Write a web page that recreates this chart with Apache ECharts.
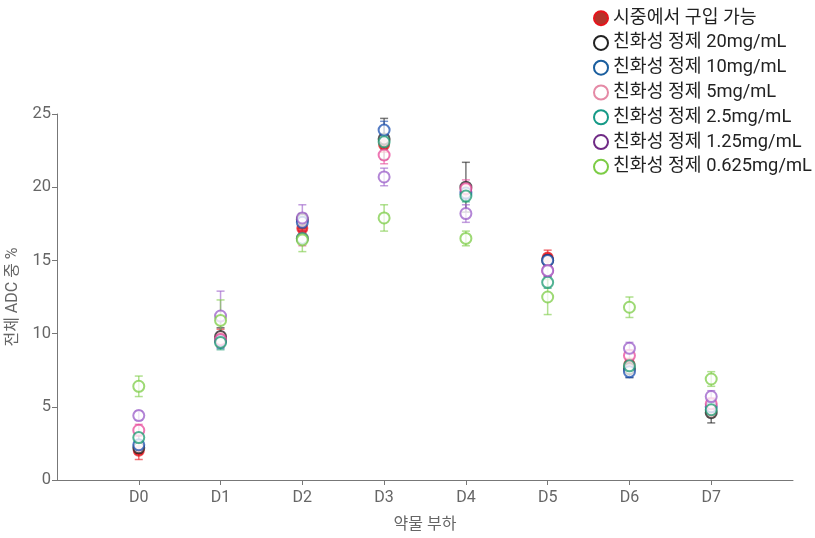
<!DOCTYPE html>
<html><head><meta charset="utf-8">
<script src="https://cdn.jsdelivr.net/npm/echarts@6/dist/echarts.min.js"></script>
<style>html,body{margin:0;padding:0;background:#fff}#c{width:815px;height:538px}</style>
</head><body><div id="c"></div>
<script>
const categories = ['D0','D1','D2','D3','D4','D5','D6','D7'];
const seriesNames = ['시중에서 구입 가능','친화성 정제 20mg/mL','친화성 정제 10mg/mL','친화성 정제 5mg/mL','친화성 정제 2.5mg/mL','친화성 정제 1.25mg/mL','친화성 정제 0.625mg/mL'];
const colors = ['#b5332a','#222222','#1a5e9e','#e58aa6','#169a87','#6f2a85','#7ccc45'];
const plotColors = ['#e8141c','#222222','#1a4fb0','#e8489a','#1a9a70','#9a5cc8','#7ccc45'];
const yTicks = [0,5,10,15,20,25];
const valRed    = [2.0, 9.7, 17.2, 22.9, 19.8, 15.2, 7.9, 4.7];
const valBlack  = [2.2, 9.8, 17.8, 23.3, 20.0, 15.0, 7.6, 4.6];
const valBlue   = [2.4, 9.5, 17.6, 23.9, 19.6, 15.0, 7.4, 5.0];
const valPink   = [3.4, 9.6, 16.5, 22.2, 19.9, 14.3, 8.5, 5.2];
const valTeal   = [2.9, 9.4, 16.5, 23.1, 19.4, 13.5, 7.8, 4.8];
const valPurple = [4.4, 11.2, 17.9, 20.7, 18.2, 14.3, 9.0, 5.7];
const valGreen  = [6.4, 10.9, 16.4, 17.9, 16.5, 12.5, 11.8, 6.9];
const errRed    = [0.6, 0.6, 0.3, 0.5, 0.4, 0.5, 0.4, 0.4];
const errBlack  = [0.4, 0.6, 0.4, 1.4, 1.7, 0.4, 0.6, 0.7];
const errBlue   = [0.3, 0.5, 0.4, 0.6, 0.4, 0.3, 0.4, 0.5];
const errPink   = [0.4, 0.5, 0.5, 0.6, 0.6, 0.4, 0.4, 0.4];
const errTeal   = [0.3, 0.5, 0.3, 0.5, 0.4, 0.4, 0.4, 0.4];
const errPurple = [0.3, 1.7, 0.9, 0.6, 0.6, 0.4, 0.4, 0.4];
const errGreen  = [0.7, 1.4, 0.8, 0.9, 0.5, 1.2, 0.7, 0.5];

const values = [valRed,valBlack,valBlue,valPink,valTeal,valPurple,valGreen];
const errors = [errRed,errBlack,errBlue,errPink,errTeal,errPurple,errGreen];
const FONT = "Roboto, 'Noto Sans CJK KR', sans-serif";

const chart = echarts.init(document.getElementById('c'));
const errSeries = values.map((vals, s) => ({
  type: 'custom',
  name: seriesNames[s],
  z: 1,
  data: vals.map((v, i) => [i, v - errors[s][i], v + errors[s][i]]),
  renderItem: function (params, api) {
    const x = api.value(0);
    const lo = api.coord([x, api.value(1)]);
    const hi = api.coord([x, api.value(2)]);
    const w = 4;
    const st = { stroke: plotColors[s], lineWidth: 1.5, opacity: 0.6 };
    return { type: 'group', children: [
      { type: 'line', shape: { x1: lo[0], y1: lo[1], x2: hi[0], y2: hi[1] }, style: st },
      { type: 'line', shape: { x1: lo[0]-w, y1: lo[1], x2: lo[0]+w, y2: lo[1] }, style: st },
      { type: 'line', shape: { x1: hi[0]-w, y1: hi[1], x2: hi[0]+w, y2: hi[1] }, style: st }
    ]};
  },
  encode: { x: 0, y: [1, 2] },
  silent: true
}));
const scatterSeries = values.map((vals, s) => ({
  type: 'scatter',
  name: seriesNames[s],
  z: 2,
  symbol: s === 0 ? 'circle' : 'emptyCircle',
  symbolSize: s === 0 ? 10 : 11,
  data: vals.map((v, i) => [i, v]),
  itemStyle: { color: plotColors[s], borderColor: plotColors[s], borderWidth: 2, opacity: 0.75 }
}));

chart.setOption({
  animation: false,
  textStyle: { fontFamily: FONT },
  legend: {
    orient: 'vertical',
    left: 588, top: 4,
    itemWidth: 14, itemHeight: 14, itemGap: 6.5,
    textStyle: { fontSize: 18.3, color: '#222', fontFamily: FONT },
    data: seriesNames.map((n, s) => ({
      name: n,
      icon: s === 0 ? 'circle' : 'emptyCircle',
      itemStyle: s === 0 ? { color: colors[s], opacity: 1 } : { color: colors[s], borderColor: colors[s], borderWidth: 1.3, opacity: 1 }
    }))
  },
  grid: { left: 57, right: 22, top: 114, bottom: 58, containLabel: false, outerBoundsMode: 'none' },
  xAxis: {
    type: 'value', min: -1, max: 8, interval: 1,
    name: '약물 부하', nameLocation: 'middle', nameGap: 37,
    nameTextStyle: { fontSize: 16, color: '#666', fontFamily: FONT },
    splitLine: { show: false },
    axisLine: { onZero: false, lineStyle: { color: '#777', width: 1 } },
    axisTick: { show: true, length: 5, lineStyle: { color: '#777' }, customValues: [0,1,2,3,4,5,6,7] },
    axisLabel: { fontSize: 16, color: '#666', margin: 10, fontFamily: FONT,
      customValues: [0,1,2,3,4,5,6,7],
      formatter: v => categories[Math.round(v)] || '' }
  },
  yAxis: {
    type: 'value', min: 0, max: 25, interval: 5,
    name: '전체 ADC 중 %', nameLocation: 'middle', nameGap: 36,
    nameTextStyle: { fontSize: 16, color: '#666', fontFamily: FONT },
    splitLine: { show: false },
    axisLine: { show: true, onZero: false, lineStyle: { color: '#777', width: 1 } },
    axisTick: { show: true, length: 5, lineStyle: { color: '#777' } },
    axisLabel: { fontSize: 16.5, color: '#666', margin: 6, fontFamily: FONT,
      formatter: v => yTicks.includes(v) ? String(v) : '' }
  },
  series: scatterSeries.concat(errSeries)
});
</script></body></html>
